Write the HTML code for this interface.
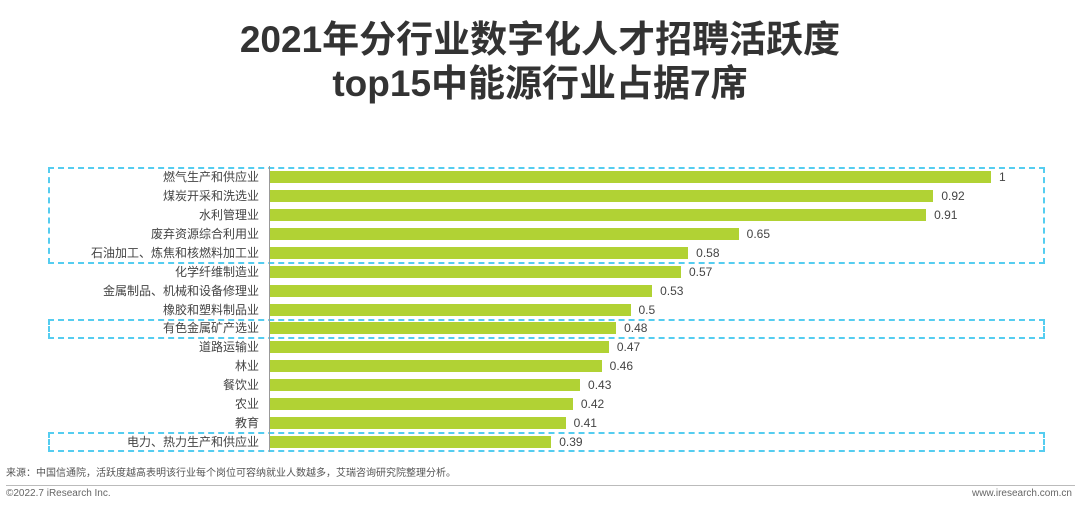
<!DOCTYPE html>
<html><head><meta charset="utf-8"><style>
body{margin:0;width:1080px;height:510px;background:#fff;position:relative;overflow:hidden;font-family:"Liberation Sans","Noto Sans CJK SC",sans-serif;color:#333}
.t{position:absolute;left:0;width:1080px;text-align:center;font-weight:bold;font-size:37px;color:#333;line-height:44px}
.lab{position:absolute;right:821px;font-size:12px;color:#444;line-height:14px;white-space:nowrap}
.bar{position:absolute;left:270px;height:12px;background:#b1d234}
.val{position:absolute;font-size:12px;color:#444;line-height:14px}
.box{position:absolute;border:2px dashed #55cdf0;box-sizing:border-box}
</style></head><body>
<div class="t" style="top:18px">2021年分行业数字化人才招聘活跃度</div>
<div class="t" style="top:62px">top15中能源行业占据7席</div>
<div class="box" style="left:48px;top:167px;width:997px;height:97px"></div>
<div class="box" style="left:48px;top:319px;width:997px;height:20px"></div>
<div class="box" style="left:48px;top:432px;width:997px;height:20px"></div>
<div style="position:absolute;left:269px;top:166px;width:1px;height:286px;background:#999"></div>
<div id="c"></div>
<div style="position:absolute;left:6px;top:464px;font-size:10px;color:#555">来源：中国信通院，活跃度越高表明该行业每个岗位可容纳就业人数越多，艾瑞咨询研究院整理分析。</div>
<div style="position:absolute;left:6px;top:485px;width:1069px;height:1px;background:#bbb"></div>
<div style="position:absolute;left:6px;top:488px;font-size:10px;color:#666">©2022.7 iResearch Inc.</div>
<div style="position:absolute;right:8px;top:488px;font-size:10px;color:#666">www.iresearch.com.cn</div>
<script>
var d=[["燃气生产和供应业",1],["煤炭开采和洗选业",0.92],["水利管理业",0.91],["废弃资源综合利用业",0.65],["石油加工、炼焦和核燃料加工业",0.58],["化学纤维制造业",0.57],["金属制品、机械和设备修理业",0.53],["橡胶和塑料制品业",0.5],["有色金属矿产选业",0.48],["道路运输业",0.47],["林业",0.46],["餐饮业",0.43],["农业",0.42],["教育",0.41],["电力、热力生产和供应业",0.39]];
var h="";d.forEach(function(r,i){var y=177+i*18.93;var w=r[1]*721;
h+='<div class="lab" style="top:'+(y-7)+'px">'+r[0]+'</div><div class="bar" style="top:'+(y-6)+'px;width:'+w+'px"></div><div class="val" style="top:'+(y-7)+'px;left:'+(270+w+8)+'px">'+r[1]+'</div>';});
document.getElementById("c").innerHTML=h;
</script>
</body></html>
